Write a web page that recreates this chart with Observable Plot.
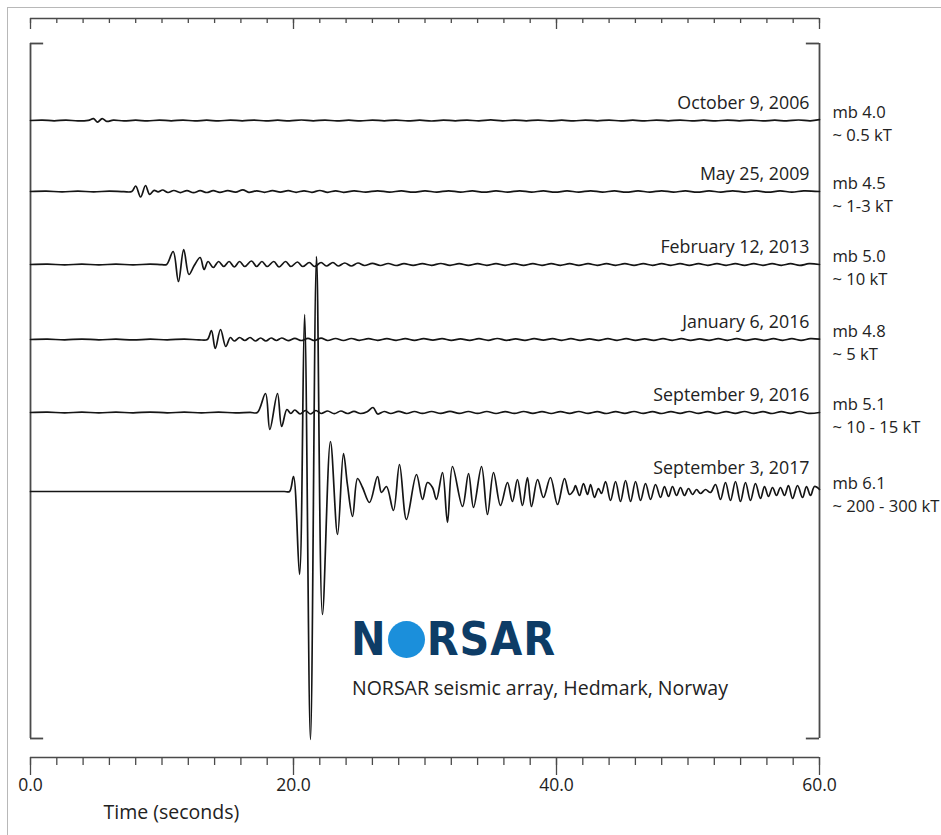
<!DOCTYPE html>
<html><head><meta charset="utf-8">
<script src="https://cdn.jsdelivr.net/npm/d3@7"></script>
<script src="https://cdn.jsdelivr.net/npm/@observablehq/plot@0.6"></script>
<style>
body{margin:0;background:#fff;}
#wrap{position:relative;width:941px;height:835px;overflow:hidden;font-family:"Open Sans",sans-serif;color:#222;}
#border{position:absolute;left:7px;top:7px;right:-5px;bottom:-5px;border-left:1.5px solid #b8b8b8;border-top:1.5px solid #b8b8b8;}
#chart{position:absolute;left:0;top:0;}
#logo{position:absolute;left:351px;top:614px;height:50px;display:flex;align-items:center;font-family:"DejaVu Sans Condensed","DejaVu Sans",sans-serif;font-weight:bold;font-size:46px;color:#0d3c66;letter-spacing:1px;line-height:1;}
#logo .o{display:inline-block;width:37px;height:37px;border-radius:50%;background:#1b8fdb;margin:0 2px 0 1px;}
#caption{position:absolute;left:352px;top:675px;font-size:19.5px;line-height:26px;color:#222;}
</style></head>
<body><div id="wrap"><div id="border"></div><div id="chart"></div>
<div id="logo"><span>N</span><span class="o"></span><span>RSAR</span></div>
<div id="caption">NORSAR seismic array, Hedmark, Norway</div></div>
<script>
// ---- data (time in s, amplitude in display counts) ----
const dates = ["October 9, 2006", "May 25, 2009", "February 12, 2013", "January 6, 2016", "September 9, 2016", "September 3, 2017"];
const magnitudes = ["mb 4.0", "mb 4.5", "mb 5.0", "mb 4.8", "mb 5.1", "mb 6.1"];
const yields = ["~ 0.5 kT", "~ 1-3 kT", "~ 10 kT", "~ 5 kT", "~ 10 - 15 kT", "~ 200 - 300 kT"];
const offsets = [77, 148, 221, 296, 369, 448];
const minorTicks = [0,2,4,6,8,10,12,14,16,18,20,22,24,26,28,30,32,34,36,38,40,42,44,46,48,50,52,54,56,58,60];
const majorTicks = [0, 20, 40, 60];
const xLabel = "Time (seconds)";

const trace2006 = [[0,0],[0.9,0.4],[1.8,-0.3],[2.7,0.4],[3.6,-0.4],[4.4,0.2],[4.8,1.8],[5.1,-1.6],[5.45,1.9],[5.8,-0.9],[6.3,0.4],[7.1,-0.4],[8,0.3],[8.9,-0.4],[9.8,0.4],[10.7,-0.3],[11.6,0.4],[12.5,-0.4],[13.4,0.3],[14.3,-0.4],[15.2,0.4],[16.1,-0.3],[17,0.4],[17.9,-0.4],[18.8,0.3],[19.7,-0.4],[20.6,0.5],[21.5,-0.3],[22.4,0.4],[23.3,-0.4],[24.2,0.3],[25.1,-0.4],[26,0.4],[26.9,-0.3],[27.8,0.4],[28.7,-0.4],[29.6,0.3],[30.5,-0.5],[31.4,0.4],[32.3,-0.3],[33.2,0.4],[34.1,-0.4],[35,0.6],[35.9,-0.4],[36.8,0.4],[37.7,-0.3],[38.6,0.4],[39.5,-0.4],[40.4,0.3],[41.3,-0.4],[42.2,0.4],[43.1,-0.3],[44,0.4],[44.9,-0.4],[45.8,0.3],[46.7,-0.4],[47.6,0.4],[48.5,-0.3],[49.4,0.4],[50.3,-0.4],[51.2,0.3],[52.1,-0.4],[53,0.4],[53.9,-0.3],[54.8,0.4],[55.7,-0.4],[56.6,0.3],[57.5,-0.4],[58.4,0.5],[59.3,-0.3],[60,0.8]];
const trace2009 = [[0,0],[1.2,0.3],[2.4,-0.3],[3.6,0.3],[4.8,-0.3],[6,0.3],[7.1,-0.2],[7.7,0],[8.0,5.5],[8.37,-5.5],[8.75,6],[9.05,-2.8],[9.4,1.2],[9.7,-0.4],[10.05,1.5],[10.45,-1],[10.9,1],[11.4,-1.1],[11.9,0.9],[12.4,-1.2],[12.9,0.8],[13.4,-1],[13.9,0.8],[14.4,-0.9],[15,0.8],[15.6,-0.6],[16.15,1.7],[16.6,-0.8],[17.2,0.7],[17.8,-0.8],[18.4,0.8],[19,-0.6],[19.6,0.8],[20.2,-0.8],[20.8,0.7],[21.4,-0.8],[22,1],[22.6,-0.8],[23.2,0.7],[23.8,-0.8],[24.6,0.6],[25.5,-0.6],[26.4,0.7],[27.3,-0.6],[28.2,0.6],[29.1,-0.7],[30,0.6],[30.9,-0.6],[31.8,0.7],[32.7,-0.6],[33.6,0.6],[34.5,-0.7],[35.4,0.6],[36.3,-0.6],[37.2,0.7],[38.1,-0.6],[39,0.6],[39.9,-0.7],[40.8,0.6],[41.7,-0.6],[42.6,0.7],[43.5,-0.6],[44.4,0.6],[45.3,-0.7],[46.2,0.6],[47.1,-0.6],[48,0.7],[48.9,-0.6],[49.8,0.6],[50.7,-0.7],[51.6,0.6],[52.5,-0.6],[53.4,0.7],[54.3,-0.6],[55.2,0.6],[56.1,-0.7],[57,0.6],[57.9,-0.6],[58.8,0.7],[60,0]];
const trace2013 = [[0,0],[1.3,0.4],[2.6,-0.4],[3.9,0.4],[5.2,-0.4],[6.5,0.4],[7.8,-0.4],[9.1,0.4],[10,-0.2],[10.35,0],[10.85,13],[11.25,-17],[11.65,15],[12.05,-10],[12.45,-1],[12.9,7],[13.2,-5],[13.5,3],[13.9,-3],[14.3,3],[14.7,-2],[15.1,3],[15.5,-2.5],[15.9,3],[16.3,-2],[16.8,3.5],[17.2,-2],[17.6,3],[18,-2],[18.5,3],[18.9,-2.5],[19.4,3],[19.8,-2],[20.3,2.5],[20.7,-2],[21.2,2],[21.6,-2],[22.1,2],[22.5,-1.5],[23,2],[23.4,-1.5],[23.9,1.5],[24.4,-1.5],[24.9,1.5],[25.4,-1],[26,1.2],[26.6,-1],[27.2,1],[27.8,-1],[28.4,0.8],[29.1,-0.9],[29.8,0.8],[30.5,-0.8],[31.2,1],[31.9,-0.8],[32.6,0.8],[33.3,-0.9],[34,0.8],[34.7,-0.8],[35.4,0.9],[36.1,-0.8],[36.8,0.8],[37.5,-0.9],[38.2,0.8],[38.9,-0.8],[39.6,0.9],[40.3,-0.8],[41,0.8],[41.7,-0.9],[42.4,0.8],[43.1,-0.8],[43.8,0.9],[44.5,-0.8],[45.2,0.8],[45.9,-0.9],[46.6,0.8],[47.3,-0.8],[48,0.9],[48.7,-0.8],[49.4,0.8],[50.1,-0.9],[50.8,0.8],[51.5,-0.8],[52.2,0.9],[52.9,-0.8],[53.6,0.8],[54.3,-0.9],[55,0.8],[55.7,-0.8],[56.4,0.9],[57.1,-0.8],[57.8,0.8],[58.5,-0.9],[59.2,0.8],[60,0]];
const traceJan2016 = [[0,0],[1.3,0.3],[2.6,-0.3],[3.9,0.4],[5.2,-0.3],[6.5,0.3],[7.8,-0.4],[9.1,0.3],[10.4,-0.3],[11.7,0.4],[12.8,-0.3],[13.45,0],[13.76,9],[14.05,-9],[14.45,10],[14.85,-7],[15.2,2],[15.5,-1.5],[15.9,2],[16.3,-1],[16.7,2],[17.1,-1.5],[17.5,1.5],[17.9,-1.5],[18.3,1.5],[18.7,-1],[19.1,1.5],[19.6,-1.2],[20.1,1.2],[20.6,-1],[21.1,1.2],[21.6,-1],[22.1,1.3],[22.6,-1],[23.2,1],[23.8,-1],[24.4,1],[25,-0.8],[25.7,0.8],[26.4,-0.8],[27.1,0.9],[27.8,-0.8],[28.5,0.8],[29.2,-0.9],[29.9,0.8],[30.6,-0.7],[31.3,0.9],[32,-0.8],[32.7,0.7],[33.4,-0.9],[34.1,0.8],[34.8,-0.8],[35.5,1],[36.2,-0.8],[36.9,0.7],[37.6,-0.9],[38.3,0.8],[39,-0.7],[39.7,0.9],[40.4,-0.8],[41.1,0.8],[41.8,-0.9],[42.5,0.7],[43.2,-0.8],[43.9,0.9],[44.6,-0.8],[45.3,0.8],[46,-0.9],[46.7,0.7],[47.4,-0.8],[48.1,0.9],[48.8,-0.8],[49.5,0.8],[50.2,-0.9],[50.9,0.7],[51.6,-0.8],[52.3,0.9],[53,-0.8],[53.7,0.8],[54.4,-0.9],[55.1,0.7],[55.8,-0.8],[56.5,0.9],[57.2,-0.8],[57.9,0.8],[58.6,-0.9],[59.3,0.8],[60,0.3]];
const traceSep2016 = [[0,0],[1.3,0.3],[2.6,-0.3],[3.9,0.3],[5.2,-0.3],[6.5,0.3],[7.8,-0.3],[9.1,0.4],[10.4,-0.3],[11.7,0.3],[13,-0.3],[14.3,0.3],[15.6,-0.3],[16.7,0.2],[17.25,0],[17.87,19],[18.2,-17],[18.78,19],[19.1,-14],[19.5,3],[19.8,-1],[20.1,2.5],[20.5,-1.5],[20.9,2],[21.3,-1.5],[21.7,2],[22.1,-1],[22.6,1.5],[23.1,-1.2],[23.6,1.5],[24.1,-1],[24.6,1.2],[25.1,-1],[25.6,0.8],[26.05,5],[26.4,-1.5],[26.9,1],[27.4,-1],[28,1.2],[28.6,-1],[29.2,1],[29.8,-0.9],[30.5,1],[31.2,-0.9],[31.9,1.1],[32.6,-0.9],[33.3,1],[34,-0.9],[34.7,1],[35.4,-1],[36.1,0.9],[36.8,-0.9],[37.5,1],[38.2,-0.8],[38.9,0.9],[39.6,-1],[40.3,0.9],[41,-0.8],[41.7,1],[42.4,-0.9],[43.1,0.8],[43.8,-1],[44.5,0.9],[45.2,-0.8],[45.9,1],[46.6,-0.9],[47.3,0.8],[48,-1],[48.7,0.9],[49.4,-0.8],[50.1,1],[50.8,-0.9],[51.5,0.8],[52.2,-1],[52.9,0.9],[53.6,-0.8],[54.3,1],[55,-0.9],[55.7,0.8],[56.4,-1],[57.1,0.9],[57.8,-0.8],[58.5,1],[59.2,-0.9],[60,0]];
const trace2017 = [[0,0],[3,0],[6,0],[9,0],[12,0],[15,0],[17,0],[18.5,0],[19.3,0],[19.7,0],[20.0,15],[20.46,-83],[20.84,177],[21.29,-248],[21.75,235],[22.2,-123],[22.81,50],[23.35,-43],[23.8,38],[24.1,7],[24.49,-25],[24.87,13],[25.25,4],[25.78,-11],[26.39,15],[26.69,-1],[27.07,5],[27.6,-19],[28.06,27],[28.59,-28],[29.35,17],[29.81,-8],[30.19,9],[30.57,4],[30.87,-8],[31.33,19],[31.71,-31],[32.09,25],[32.85,-15],[33.31,18],[33.69,-16],[34.3,25],[34.75,-23],[35.21,19],[35.74,-14],[36.27,9],[36.65,-10],[37.03,12],[37.41,-14],[37.79,14],[38.1,-15],[38.56,12],[39.01,-6],[39.54,14],[40.08,-13],[40.61,13],[40.99,-3],[41.29,1],[41.44,6],[41.75,-4],[42.05,8],[42.36,-3],[42.59,7],[42.89,-6],[43.19,3],[43.42,-2],[43.73,10],[44.11,-9],[44.49,10],[44.87,-10],[45.25,11],[45.63,-10],[46.01,10],[46.39,-9],[46.77,8],[47.15,-8],[47.53,7],[47.91,-6],[48.21,5],[48.52,-5],[48.82,5],[49.13,-4],[49.43,4],[49.73,-4],[50.04,3],[50.34,-3],[50.65,2],[50.95,-2],[51.33,2],[51.71,-1],[52.09,7],[52.47,-8],[52.85,9],[53.23,-9],[53.61,10],[53.99,-10],[54.37,9],[54.75,-9],[55.13,8],[55.51,-7],[55.82,5],[56.12,-5],[56.43,4],[56.73,-4],[57.03,4],[57.34,-4],[57.64,6],[57.95,-7],[58.33,6],[58.71,-6],[59.01,5],[59.32,-4],[59.62,5],[60,2]];
const waves = [trace2006, trace2009, trace2013, traceJan2016, traceSep2016, trace2017];

// ---- build table for the library ----
const yDomain = [-714, 25];          // bottom axis line .. top axis line
const panel = [0, -695];             // extent of the bracketed trace panel
const rows = waves.flatMap((w, i) => w.map(([t, a]) => ({name: dates[i], t, v: a - offsets[i]})));
const labels = dates.map((d, i) => {
  const tail = d3.max(waves[i].filter(([t]) => t >= 50), ([, a]) => Math.abs(a));
  return {date: d, mb: magnitudes[i] + "\n" + yields[i], base: -offsets[i], lift: 17 + 0.6 * tail};
});

const ink = "#151515", axisInk = "#4a4a4a";
const chart = Plot.plot({
  width: 941, height: 835,
  marginLeft: 30, marginRight: 122, marginTop: 18, marginBottom: 78,
  x: {domain: [0, 60], axis: null},
  y: {domain: yDomain, axis: null},
  style: {fontFamily: "'Open Sans', sans-serif", fontSize: "16px", color: "#222", background: "transparent", overflow: "visible"},
  marks: [
    // top and bottom time axes
    Plot.ruleY([yDomain[1]], {stroke: axisInk, strokeWidth: 1.6}),
    Plot.ruleY([yDomain[0]], {stroke: axisInk, strokeWidth: 1.6}),
    Plot.ruleX(minorTicks, {y1: yDomain[1], y2: yDomain[1] - 5, stroke: axisInk, strokeWidth: 1.3}),
    Plot.ruleX(majorTicks, {y1: yDomain[1], y2: yDomain[1] - 11, stroke: axisInk, strokeWidth: 1.3}),
    Plot.ruleX(minorTicks, {y1: yDomain[0], y2: yDomain[0] - 8, stroke: axisInk, strokeWidth: 1.3}),
    Plot.ruleX(majorTicks, {y1: yDomain[0], y2: yDomain[0] - 18, stroke: axisInk, strokeWidth: 1.3}),
    Plot.text(majorTicks, {x: d => d, frameAnchor: "bottom", dy: 33, text: d => d.toFixed(1), fontSize: 17.5, fill: "#222"}),
    Plot.text([xLabel], {frameAnchor: "bottom-left", dx: 73, dy: 61, textAnchor: "start", fontSize: 19.5, fill: "#222"}),
    // bracket around the traces
    Plot.ruleX([0, 60], {y1: panel[0], y2: panel[1], stroke: axisInk, strokeWidth: 1.8}),
    Plot.ruleY(panel, {x1: 0, x2: 1, stroke: axisInk, strokeWidth: 1.8}),
    Plot.ruleY(panel, {x1: 59, x2: 60, stroke: axisInk, strokeWidth: 1.8}),
    // seismograms
    Plot.line(rows, {x: "t", y: "v", z: "name", curve: "catmull-rom", stroke: ink, strokeWidth: 1.7}),
    // labels
    Plot.text(labels, {x: 60, y: d => d.base + d.lift, dx: -10, textAnchor: "end", text: "date", fontSize: 17.8, fill: "#222"}),
    Plot.text(labels, {x: 60, y: "base", dx: 13, dy: -18, textAnchor: "start", lineAnchor: "top", lineHeight: 1.35, text: "mb", fontSize: 16.6, fill: "#222"})
  ]
});
document.getElementById("chart").appendChild(chart);
</script>
</body></html>
